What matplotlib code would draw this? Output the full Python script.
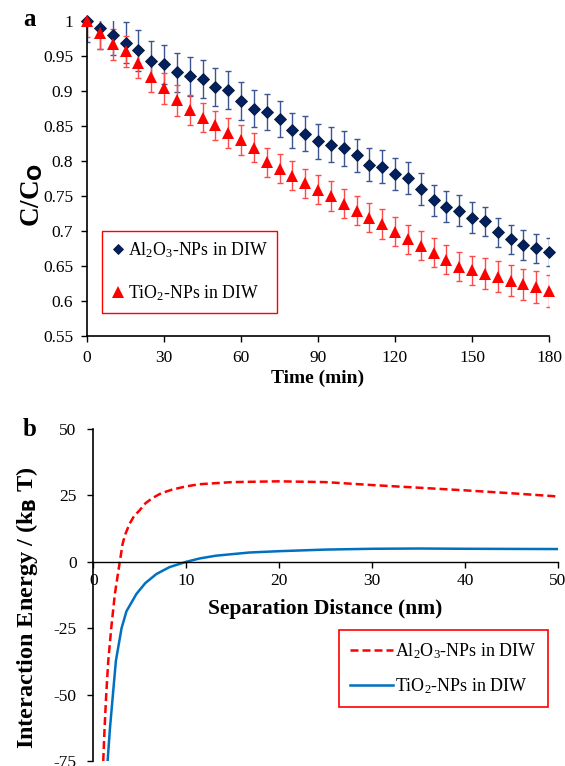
import matplotlib
matplotlib.use("Agg")
import matplotlib.pyplot as plt
from matplotlib.lines import Line2D

plt.rcParams['font.family'] = ['Liberation Serif', 'DejaVu Serif']
plt.rcParams['mathtext.default'] = 'regular'
plt.rcParams['axes.unicode_minus'] = False

# panel a: normalised concentration vs time
time_min = [0, 5, 10, 15, 20, 25, 30, 35, 40, 45, 50, 55, 60, 65, 70, 75, 80, 85,
            90, 95, 100, 105, 110, 115, 120, 125, 130, 135, 140, 145, 150, 155,
            160, 165, 170, 175, 180]
al_cc = [1.000, 0.990, 0.980, 0.969, 0.958, 0.943, 0.938, 0.927, 0.921, 0.917,
         0.906, 0.901, 0.886, 0.875, 0.870, 0.860, 0.844, 0.839, 0.828, 0.823,
         0.818, 0.808, 0.795, 0.792, 0.782, 0.776, 0.760, 0.744, 0.735, 0.729,
         0.719, 0.714, 0.698, 0.688, 0.680, 0.675, 0.670]
al_err = [0.030, 0.030, 0.029, 0.029, 0.029, 0.028, 0.028, 0.028, 0.028, 0.027,
          0.027, 0.027, 0.027, 0.026, 0.026, 0.026, 0.025, 0.025, 0.025, 0.025,
          0.025, 0.024, 0.024, 0.024, 0.023, 0.023, 0.023, 0.022, 0.022, 0.022,
          0.022, 0.021, 0.021, 0.021, 0.021, 0.020, 0.020]
ti_cc = [1.000, 0.983, 0.967, 0.957, 0.940, 0.920, 0.904, 0.887, 0.873, 0.862,
         0.851, 0.840, 0.830, 0.819, 0.798, 0.789, 0.779, 0.768, 0.759, 0.750,
         0.739, 0.729, 0.719, 0.710, 0.699, 0.688, 0.679, 0.669, 0.659, 0.649,
         0.644, 0.639, 0.635, 0.629, 0.624, 0.620, 0.614]
ti_err = [0.023, 0.023, 0.022, 0.022, 0.022, 0.022, 0.022, 0.022, 0.022, 0.021,
          0.021, 0.021, 0.021, 0.021, 0.021, 0.021, 0.021, 0.021, 0.021, 0.021,
          0.021, 0.021, 0.021, 0.021, 0.021, 0.021, 0.021, 0.021, 0.021, 0.021,
          0.021, 0.022, 0.022, 0.022, 0.022, 0.023, 0.023]

# panel b: DLVO interaction energy profiles
al_dist = [1.07, 1.21, 1.39, 1.61, 1.93, 2.32, 2.85, 3.15, 3.4, 3.9, 4.4, 4.96,
           5.6, 6.36, 7.3, 8.5, 10.0, 11.4, 14.9, 19.9, 25, 30, 35, 40, 45, 50]
al_energy = [-75, -62.8, -50, -37.3, -25, -12.1, 0, 6.7, 10, 14.3, 17.3, 19.3,
             22, 24.0, 25.8, 27.2, 28.4, 29.2, 30.0, 30.3, 30.0, 28.9, 27.9,
             26.9, 25.8, 24.6]
ti_dist = [1.54, 1.79, 2.11, 2.43, 3.04, 3.57, 4.64, 5.6, 6.79, 8.2, 10.0, 11.5,
           13.2, 16.8, 20, 25, 30, 35, 40, 45, 50]
ti_energy = [-75, -62.8, -50, -37.3, -25, -18.6, -12.1, -8, -4.6, -2, 0, 1.3,
             2.3, 3.5, 4.0, 4.6, 4.9, 5.0, 4.9, 4.85, 4.8]

al_label = r'Al$_2$O$_3$-NPs in DIW'
ti_label = r'TiO$_2$-NPs in DIW'

navy = '#002060'
red = '#ff0000'
blue = '#0070c0'

W, H = 565, 766
fig = plt.figure(figsize=(W / 100, H / 100), dpi=100)

# ---- panel a ----
ax1 = fig.add_axes([87 / W, 1 - 336 / H, 462 / W, 315 / H])
ax1.errorbar(time_min, al_cc, yerr=al_err, fmt='none', ecolor='#3a5590',
             elinewidth=1.0, capsize=2, capthick=1.0)
ax1.errorbar(time_min, ti_cc, yerr=ti_err, fmt='none', ecolor='#ff4a4a',
             elinewidth=1.0, capsize=2, capthick=1.0)
ax1.plot(time_min, al_cc, 'D', color=navy, ms=6.3, mec='#0a1a3a', mew=0.6,
         clip_on=False, zorder=4)
ax1.plot(time_min, ti_cc, '^', color=red, ms=8.5, mew=0, clip_on=False, zorder=5)

ax1.set_xlim(0, 180)
ax1.set_ylim(0.55, 1.0)
ax1.set_xticks(range(0, 181, 30))
ax1.set_yticks([0.55, 0.6, 0.65, 0.7, 0.75, 0.8, 0.85, 0.9, 0.95, 1.0])
ax1.set_yticklabels(['0.55', '0.6', '0.65', '0.7', '0.75', '0.8', '0.85',
                     '0.9', '0.95', '1'])
for s in ['top', 'right']:
    ax1.spines[s].set_visible(False)
ax1.spines['left'].set_linewidth(1.2)
ax1.spines['bottom'].set_linewidth(1.2)
ax1.tick_params(axis='both', direction='out', length=4, width=1,
                labelsize=12.5, pad=6)
ax1.set_xlabel('Time (min)', fontsize=14, fontweight='bold', labelpad=3)
ax1.set_ylabel(r'C/C$_{\mathbf{O}}$', fontsize=19.5, fontweight='bold')
ax1.yaxis.set_label_coords((45 - 87) / 462, (336 - 195) / 315)

handles_a = [
    Line2D([], [], ls='none', marker='D', color=navy, ms=5.5, mec='#0a1a3a', mew=0.6),
    Line2D([], [], ls='none', marker='^', color=red, ms=8, mew=0),
]
leg1 = ax1.legend(handles_a, [al_label, ti_label], loc='lower left',
                  bbox_to_anchor=(0.0325, 0.073), fontsize=12.8, frameon=True,
                  fancybox=False, edgecolor=red, framealpha=1,
                  labelspacing=1.3, borderpad=0.55, handlelength=0.75,
                  handletextpad=0.15, borderaxespad=0)
leg1.get_frame().set_linewidth(1.0)

fig.text(30 / W, 1 - 19 / H, 'a', fontsize=18, fontweight='bold',
         ha='center', va='center')

# ---- panel b ----
ax2 = fig.add_axes([93.3 / W, 1 - 761 / H, 464.7 / W, 332 / H])
ax2.plot(al_dist, al_energy, color=red, lw=1.8, ls=(0, (3.2, 1.6)))
ax2.plot(ti_dist, ti_energy, color=blue, lw=1.8)

ax2.set_xlim(0, 50)
ax2.set_ylim(-75, 50)
ax2.set_xticks(range(0, 51, 10))
ax2.set_yticks([-75, -50, -25, 0, 25, 50])
for s in ['top', 'right']:
    ax2.spines[s].set_visible(False)
ax2.spines['bottom'].set_position(('data', 0))
ax2.spines['left'].set_linewidth(1.2)
ax2.spines['bottom'].set_linewidth(1.0)
ax2.tick_params(axis='both', direction='out', length=4, width=1,
                labelsize=12.5, pad=8)
ax2.tick_params(axis='x', pad=4)
ax2.text(0.5, (761 - 609) / 332, 'Separation Distance (nm)', transform=ax2.transAxes,
         ha='center', va='center', fontsize=15.5, fontweight='bold')
ax2.set_ylabel(r'Interaction Energy / (k$_{\mathbf{B}}$ T)', fontsize=17.5,
               fontweight='bold')
ax2.yaxis.set_label_coords((40 - 93.3) / 464.7, (761 - 608) / 332)

handles_b = [
    Line2D([], [], color=red, lw=1.8, ls=(0, (3.2, 1.6))),
    Line2D([], [], color=blue, lw=1.8),
]
leg2 = ax2.legend(handles_b, [al_label, ti_label], loc='lower left',
                  bbox_to_anchor=(0.529, 0.163), fontsize=13, frameon=True,
                  fancybox=False, edgecolor=red, framealpha=1,
                  labelspacing=0.85, borderpad=0.6, handlelength=2.4,
                  handletextpad=0.1, borderaxespad=0)
leg2.get_frame().set_linewidth(1.2)

fig.text(30 / W, 1 - 430 / H, 'b', fontsize=18, fontweight='bold',
         ha='center', va='center')

fig.savefig('out.png', dpi=100)
